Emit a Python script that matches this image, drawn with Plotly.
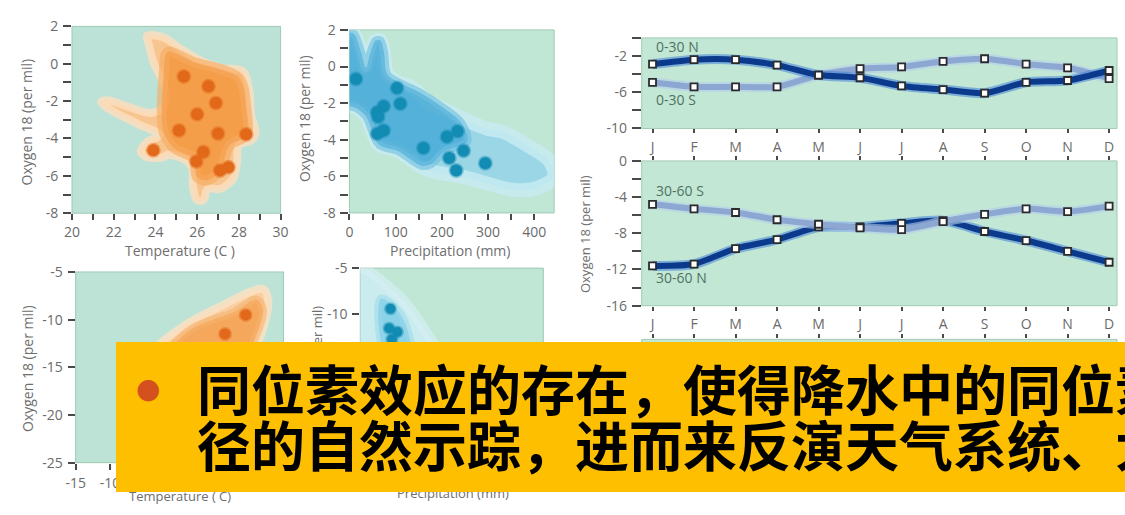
import plotly.graph_objects as go

W, H = 1125, 515

# ---------------- data ----------------
months = ["J", "F", "M", "A", "M", "J", "J", "A", "S", "O", "N", "D"]
month_idx = list(range(12))
o18_0_30N = [-2.9, -2.4, -2.4, -3.0, -4.1, -4.4, -5.3, -5.7, -6.1, -4.9, -4.7, -3.6]
o18_0_30S = [-4.9, -5.4, -5.4, -5.4, -4.1, -3.4, -3.2, -2.6, -2.3, -2.9, -3.3, -4.5]
o18_30_60S = [-4.8, -5.3, -5.7, -6.5, -7.0, -7.4, -7.6, -6.7, -5.9, -5.3, -5.6, -5.0]
o18_30_60N = [-11.6, -11.4, -9.7, -8.7, -7.3, -7.3, -6.9, -6.6, -7.8, -8.8, -10.0, -11.2]

temp_trop = [25.36, 26.54, 26.9, 26.0, 25.13, 27.0, 28.35, 23.9, 26.3, 25.96, 27.1, 27.5]
o18_temp_trop = [-0.68, -1.21, -2.1, -2.7, -3.57, -3.74, -3.77, -4.63, -4.72, -5.23, -5.71, -5.54]
# region boundary (orange cloud) tropics temperature
cloud_t_outer_x = [23.6, 24.4, 25.2, 26.3, 27.2, 28.2, 28.5, 28.6, 28.8, 28.6, 28.0, 27.9, 27.7, 27.1, 26.5, 26.3,
                   26.0, 25.8, 25.75, 25.35, 24.57, 24.4, 23.6, 23.3, 23.6, 24.2, 23.3, 22.4, 21.6, 21.4, 21.7,
                   22.7, 23.8, 24.4, 24.5, 24.3, 23.9, 23.7, 23.6]
cloud_t_outer_y = [1.5, 1.4, 0.8, 0.1, -0.23, -0.4, -1.44, -2.8, -3.67, -4.1, -4.36, -5.4, -6.2, -6.7, -6.7, -7.3,
                   -7.3, -6.6, -5.56, -5.1, -4.87, -5.0, -5.0, -4.7, -4.2, -3.8, -3.3, -2.8, -2.3, -2.04, -1.95,
                   -2.3, -2.64, -2.3, -1.44, -0.83, 0.1, 0.97, 1.5]
cloud_t_inner_x = [24.57, 25.8, 28.0, 28.35, 28.35, 27.56, 27.1, 26.46, 26.0, 25.8, 24.9, 24.4, 24.3, 24.4, 24.57]
cloud_t_inner_y = [0.63, 0.11, -0.75, -2.3, -3.84, -4.36, -5.73, -6.25, -6.08, -5.05, -4.53, -3.67, -2.3, -0.58, 0.63]

precip_trop = [14, 103, 110, 74, 60, 62, 74, 60, 160, 211, 234, 247, 216, 231, 294]
o18_precip_trop = [-0.68, -1.17, -2.03, -2.17, -2.5, -2.75, -3.5, -3.67, -4.45, -3.84, -3.54, -4.6, -5.0, -5.68, -5.28]
cloud_p_outer_x = [0, 10.6, 24.8, 35.5, 46, 56.7, 67, 74.5, 81.6, 106, 135, 170, 206, 255, 298, 333, 383, 433, 443,
                   404, 355, 298, 248, 184, 156, 106, 64, 35.5, 14, 0]
cloud_p_outer_y = [1.86, 1.77, 0.81, -0.07, 0.81, 1.42, 1.42, 0.81, -0.42, -0.86, -1.12, -1.91, -2.35, -2.96, -3.4,
                   -3.58, -4.28, -5.16, -6.04, -6.65, -6.74, -6.39, -6.04, -5.77, -5.5, -4.63, -4.28, -2.7, -2.26, -2.18]
cloud_p_inner_x = [0, 10.6, 24.8, 35.5, 46, 56.7, 67, 74.5, 81.6, 106, 156, 199, 241, 255, 206, 177, 156, 106, 64,
                   35.5, 14, 0]
cloud_p_inner_y = [1.86, 1.77, 0.81, -0.07, 0.81, 1.42, 1.42, 0.81, -0.42, -0.86, -1.47, -2.18, -3.05, -4.1, -4.63,
                   -5.33, -5.42, -4.63, -4.28, -2.7, -2.26, -2.18]

temp_mid = [9.7, 6.7]
o18_temp_mid = [-9.5, -11.5]
cloud_tm_outer_x = [12.3, 13.0, 12.6, 11.5, 8, 2, -3, -4, 0, 6, 12.3]
cloud_tm_outer_y = [-6.8, -8.2, -10, -12.5, -18, -22, -20, -13.8, -11, -8.6, -6.8]
cloud_tm_inner_x = [11.3, 12.2, 11, 6, -2, -1, 2, 8, 11.3]
cloud_tm_inner_y = [-7.9, -9, -12, -18, -18, -13, -10.9, -9.2, -7.9]

precip_mid = [66, 63, 81, 69]
o18_precip_mid = [-9.4, -11.5, -11.9, -12.7]
cloud_pm_outer_x = [0, 15, 100, 160, 250, 0]
cloud_pm_outer_y = [-5, -5.2, -8.8, -13.1, -20, -20]
cloud_pm_inner_x = [45, 75, 100, 110, 60, 40, 45]
cloud_pm_inner_y = [-8.3, -9.2, -11.2, -15, -15, -11, -8.3]

text_line1 = "同位素效应的存在，使得降水中的同位素"
text_line2 = "径的自然示踪，进而来反演天气系统、大"


# ---------------- helpers ----------------
def px(x):
    return x / W


def py(y):
    return 1 - y / H


fig = go.Figure()

ORANGE_DOT = "#e2681a"
BLUE_DOT = "#138cb4"


def cloud(xs, ys, ax, fill, glow, gw):
    fig.add_trace(go.Scatter(x=xs, y=ys, xaxis=ax[0], yaxis=ax[1], mode="lines", fill="toself",
                             fillcolor=fill, line=dict(color=glow, width=gw, shape="spline", smoothing=0.9),
                             hoverinfo="skip", showlegend=False))


# A: tropics temperature
cloud(cloud_t_outer_x, cloud_t_outer_y, ("x", "y"), "rgba(250,196,140,0.95)", "rgba(252,222,190,0.8)", 8)
cloud(cloud_t_inner_x, cloud_t_inner_y, ("x", "y"), "rgba(244,150,62,0.85)", "rgba(246,170,95,0.6)", 10)
fig.add_trace(go.Scatter(x=temp_trop, y=o18_temp_trop, xaxis="x", yaxis="y", mode="markers",
                         marker=dict(size=12, color=ORANGE_DOT, line=dict(color="rgba(226,104,26,0.45)", width=3)),
                         showlegend=False))
# B: tropics precipitation
cloud(cloud_p_outer_x, cloud_p_outer_y, ("x2", "y2"), "rgba(150,212,232,0.9)", "rgba(200,236,242,0.8)", 14)
cloud(cloud_p_inner_x, cloud_p_inner_y, ("x2", "y2"), "rgba(72,170,214,0.85)", "rgba(110,190,225,0.6)", 8)
fig.add_trace(go.Scatter(x=precip_trop, y=o18_precip_trop, xaxis="x2", yaxis="y2", mode="markers",
                         marker=dict(size=12, color=BLUE_DOT, line=dict(color="rgba(19,140,180,0.45)", width=3)),
                         showlegend=False))
# F: mid-lat temperature
cloud(cloud_tm_outer_x, cloud_tm_outer_y, ("x6", "y6"), "rgba(250,205,160,0.95)", "rgba(252,225,195,0.8)", 8)
cloud(cloud_tm_inner_x, cloud_tm_inner_y, ("x6", "y6"), "rgba(245,160,80,0.85)", "rgba(247,178,110,0.6)", 8)
fig.add_trace(go.Scatter(x=temp_mid, y=o18_temp_mid, xaxis="x6", yaxis="y6", mode="markers",
                         marker=dict(size=11, color=ORANGE_DOT, line=dict(color="rgba(226,104,26,0.45)", width=3)),
                         showlegend=False))
# G: mid-lat precipitation
cloud(cloud_pm_outer_x, cloud_pm_outer_y, ("x7", "y7"), "rgba(205,238,244,0.8)", "rgba(215,240,245,0.6)", 10)
cloud(cloud_pm_inner_x, cloud_pm_inner_y, ("x7", "y7"), "rgba(110,200,228,0.7)", "rgba(150,215,235,0.5)", 8)
fig.add_trace(go.Scatter(x=precip_mid, y=o18_precip_mid, xaxis="x7", yaxis="y7", mode="markers",
                         marker=dict(size=10, color=BLUE_DOT, line=dict(color="rgba(19,140,180,0.45)", width=3)),
                         showlegend=False))

DARK, DARK_HALO = "#0b3a8c", "rgba(70,130,215,0.55)"
LIGHT, LIGHT_HALO = "#8ca7d2", "rgba(180,205,235,0.6)"


def season_line(vals, ax, core, halo):
    fig.add_trace(go.Scatter(x=month_idx, y=vals, xaxis=ax[0], yaxis=ax[1], mode="lines",
                             line=dict(color=halo, width=10, shape="spline", smoothing=0.7),
                             hoverinfo="skip", showlegend=False))
    fig.add_trace(go.Scatter(x=month_idx, y=vals, xaxis=ax[0], yaxis=ax[1], mode="lines",
                             line=dict(color=core, width=6, shape="spline", smoothing=0.7),
                             showlegend=False))


def season_markers(vals, ax):
    fig.add_trace(go.Scatter(x=month_idx, y=vals, xaxis=ax[0], yaxis=ax[1], mode="markers",
                             marker=dict(symbol="square", size=7, color="white",
                                         line=dict(color="#2b2b2b", width=1.8)),
                             cliponaxis=False, showlegend=False))


season_line(o18_0_30S, ("x3", "y3"), LIGHT, LIGHT_HALO)
season_line(o18_0_30N, ("x3", "y3"), DARK, DARK_HALO)
season_markers(o18_0_30S, ("x3", "y3"))
season_markers(o18_0_30N, ("x3", "y3"))
season_line(o18_30_60N, ("x4", "y4"), DARK, DARK_HALO)
season_line(o18_30_60S, ("x4", "y4"), LIGHT, LIGHT_HALO)
season_markers(o18_30_60N, ("x4", "y4"))
season_markers(o18_30_60S, ("x4", "y4"))
# E (empty lower panel, mostly hidden)
fig.add_trace(go.Scatter(x=[0], y=[0], xaxis="x5", yaxis="y5", mode="markers",
                         marker=dict(size=1, color="rgba(0,0,0,0)"), hoverinfo="skip", showlegend=False))

# ---------------- axes ----------------
TF = dict(family="Open Sans, DejaVu Sans, sans-serif", size=14, color="#6b6b6b")


def axis(domain, rng, tickvals, ticktext, anchor, ticklen=7, font=TF, side=None, mirror=False, show=True,
         standoff=2):
    d = dict(domain=domain, range=rng, anchor=anchor, showgrid=False, zeroline=False, showline=False,
             ticks="outside", ticklen=ticklen, tickwidth=2, tickcolor="#4a4a4a",
             tickvals=tickvals, ticktext=ticktext, tickfont=font, showticklabels=show, fixedrange=True,
             ticklabelstandoff=standoff)
    if side:
        d["side"] = side
    if mirror:
        d["mirror"] = "ticks"
    return d


def lab(vals, every):
    return [("%g" % v) if (round(v) % every == 0) else "" for v in vals]


# A
a_x = list(range(20, 31))
a_y = list(range(-8, 3))
# B
b_x = list(range(0, 401, 50))
# C/D
c_y = [0, -2, -4, -6, -8, -10]
c_yt = ["", "-2", "", "-6", "", "-10"]
d_y = [0, -2, -4, -6, -8, -10, -12, -14, -16]
d_yt = ["0", "", "-4", "", "-8", "", "-12", "", "-16"]
# F/G (labels hidden behind the overlay are left blank)
f_x = list(range(-15, 16, 5))
f_xt = ["-15", "-10", "", "", "", "", ""]
f_y = [-5, -10, -15, -20, -25]
f_yt = ["-5", "-10", "-15", "-20", "-25"]
g_x = [0, 100, 200, 300, 400]
g_yt = ["-5", "-10", "", "", ""]

SF = dict(family="Open Sans, DejaVu Sans, sans-serif", size=14, color="#6b6b6b")
layout_axes = dict(
    xaxis=axis([px(63), px(275)], [20, 30], a_x, lab(a_x, 2), "y", ticklen=6, standoff=0),
    yaxis=axis([py(211), py(17)], [-8, 2], a_y, lab(a_y, 2), "x", ticklen=8),
    xaxis2=axis([px(345), px(553)], [0, 443], b_x, lab(b_x, 100), "y2", ticklen=6, standoff=0),
    yaxis2=axis([py(210.7), py(20.7)], [-8, 2], a_y, lab(a_y, 2), "x2", ticklen=8),
    xaxis3=axis([px(642), 1.0], [-0.26, 11.19], month_idx, months, "y3", ticklen=4, font=SF),
    yaxis3=axis([py(123), py(29)], [-10, 0], c_y, c_yt, "x3", ticklen=9, font=SF),
    xaxis4=axis([px(642), 1.0], [-0.26, 11.19], month_idx, months, "y4", ticklen=4, font=SF, mirror=True),
    yaxis4=axis([py(307), py(156.7)], [-16, 0], d_y, d_yt, "x4", ticklen=9, font=SF),
    xaxis5=axis([px(642), 1.0], [-0.26, 11.19], month_idx, months, "y5", ticklen=4, side="top", show=False),
    yaxis5=dict(domain=[py(490), py(342)], range=[0, 1], anchor="x5", visible=False),
    xaxis6=axis([px(66.7), px(278)], [-15, 15.2], f_x, f_xt, "y6", ticklen=6, font=SF),
    yaxis6=axis([py(470), py(272)], [-25, -5], f_y, f_yt, "x6", ticklen=7, font=SF),
    xaxis7=axis([px(356), px(542)], [0, 400], g_x, ["", "", "", "", ""], "y7", ticklen=6, font=SF),
    yaxis7=axis([py(460), py(268)], [-25, -5], f_y, g_yt, "x7", ticklen=7, font=SF),
)

# background panels
panels = [("x", "y", "#bce2d7"), ("x2", "y2", "#c0e6d6"), ("x3", "y3", "#c3e7d5"), ("x4", "y4", "#c3e7d5"),
          ("x5", "y5", "#c3e7d5"), ("x6", "y6", "#bde3d6"), ("x7", "y7", "#c0e6d6")]
shapes = []
for xa, ya, col in panels:
    shapes.append(dict(type="rect", xref=xa + " domain", yref=ya + " domain", x0=0, x1=1, y0=0, y1=1,
                       fillcolor=col, line=dict(color="#9fcab4", width=1), layer="below"))

# ---------------- annotations ----------------
anns = []
TT = dict(family="Open Sans, DejaVu Sans, sans-serif", size=14, color="#6e6e6e")


def note(text, x, y, font=TT, angle=0, xanchor="center"):
    anns.append(dict(text=text, x=px(x), y=py(y), xref="paper", yref="paper", showarrow=False,
                     xanchor=xanchor, yanchor="middle", textangle=angle, font=font))


note("Temperature (C )", 173, 250)
note("Oxygen 18 (per mil)", 17, 116, angle=-90)
note("Precipitation (mm)", 447, 250)
note("Oxygen 18 (per mil)", 300, 113, angle=-90)
note("Oxygen 18 (per mil)", 585, 233, font=dict(TT, size=13), angle=-90)
note("Temperature ( C)", 173, 505, font=dict(TT, size=13))
note("Oxygen 18 (per mil)", 18, 372, angle=-90)
note("Oxygen 18 (per mil)", 312, 368, font=dict(TT, size=13), angle=-90)
note("Precipitation (mm)", 450, 501, font=dict(TT, size=13))

LF = dict(family="Open Sans, DejaVu Sans, sans-serif", size=14, color="#4f7262")
note("0-30 N", 654, 38, font=LF, xanchor="left")
note("0-30 S", 654, 93, font=LF, xanchor="left")
note("30-60 S", 654, 187, font=LF, xanchor="left")
note("30-60 N", 654, 278, font=LF, xanchor="left")

# yellow overlay box (annotation so it also covers annotation titles beneath)
anns.append(dict(text=" ", x=px(108), y=py(345), xref="paper", yref="paper", xanchor="left", yanchor="top",
                 width=1017, height=150, bgcolor="#fdbf00", borderpad=0, borderwidth=0, showarrow=False))
anns.append(dict(text="●", x=px(140), y=py(393), xref="paper", yref="paper", xanchor="center", yanchor="middle",
                 showarrow=False, font=dict(family="DejaVu Sans", size=28, color="#d4501e")))
CJK = dict(family="Noto Sans CJK SC", size=54, color="#000000", weight="bold")
anns.append(dict(text=text_line1, x=px(188), y=py(392), xref="paper", yref="paper", xanchor="left",
                 yanchor="middle", showarrow=False, font=CJK))
anns.append(dict(text=text_line2, x=px(188), y=py(450), xref="paper", yref="paper", xanchor="left",
                 yanchor="middle", showarrow=False, font=CJK))

fig.update_layout(width=W, height=H, margin=dict(l=0, r=0, t=0, b=0), paper_bgcolor="white",
                  plot_bgcolor="rgba(0,0,0,0)", showlegend=False, shapes=shapes, annotations=anns,
                  **layout_axes)

fig.write_html("out.html", config={"displayModeBar": False},
               post_script="document.body.style.margin='0';document.body.style.overflow='hidden';")
